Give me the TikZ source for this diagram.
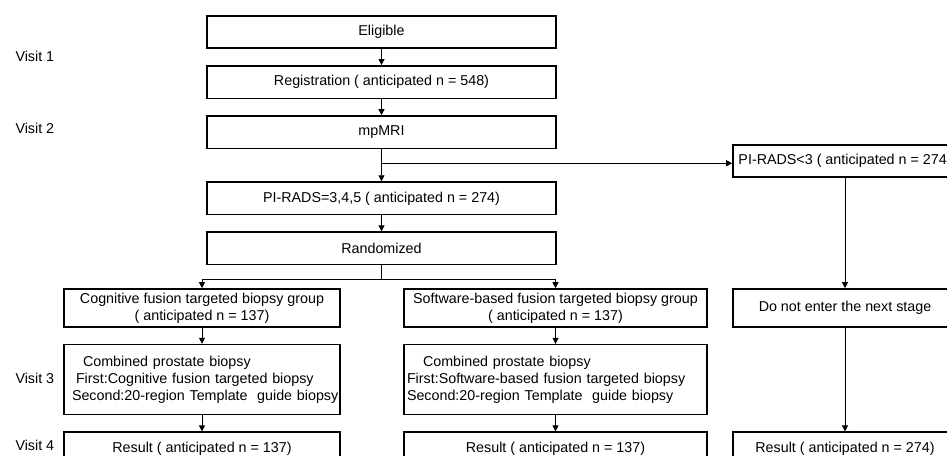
\documentclass[tikz,border=0pt]{standalone}
\usepackage{fontspec}
\setmainfont{Liberation Sans}
\usetikzlibrary{positioning,arrows.meta}

\begin{document}
\begin{tikzpicture}[
    x=1pt, y=-1pt,
    node distance=16pt,
    box/.style={rectangle, draw=black, line width=1.6pt, align=center,
                minimum height=32.5pt, inner sep=3pt,
                font=\fontsize{14.3}{17.3}\selectfont},
    mainbox/.style={box, minimum width=349pt},
    arrow/.style={-{Triangle[width=6pt,length=6pt]}, line width=0.8pt},
    lbl/.style={anchor=west, font=\fontsize{14.3}{17.3}\selectfont}
]
    \clip (0,0) rectangle (947,455);

    % main column
    \node[mainbox] (elig) at (381.5,32) {Eligible};
    \node[mainbox, below=of elig] (reg) {Registration ( anticipated n = 548)};
    \node[mainbox, below=of reg] (mri) {mpMRI};
    \node[mainbox, below=32pt of mri] (pi) {PI-RADS=3,4,5 ( anticipated n = 274)};
    \node[mainbox, below=of pi] (rand) {Randomized};

    % right branch
    \node[box, minimum width=224pt] (low) at (845,161) {PI-RADS<3 ( anticipated n = 274)};

    % groups
    \node[box, minimum width=276pt, minimum height=38pt] (cog) at (202,308)
        {Cognitive fusion targeted biopsy group\\( anticipated n = 137)};
    \node[box, minimum width=303pt, minimum height=38pt] (soft) at (555.5,308)
        {Software-based fusion targeted biopsy group\\( anticipated n = 137)};
    \node[box, minimum width=224pt, minimum height=38pt] (dne) at (845,308)
        {Do not enter the next stage};

    \node[box, below=of cog, minimum height=70pt, text width=260pt, inner xsep=8pt, align=left] (comb)
        {\hspace*{11pt}\mbox{Combined prostate biopsy}\\
         \hspace*{4pt}\mbox{First:Cognitive fusion targeted biopsy}\\
         \mbox{Second:20-region Template\ \ guide biopsy}};
    \node[box, below=of soft, minimum height=70pt, text width=297pt, inner xsep=3pt, align=left] (softcomb)
        {\hspace*{16pt}\mbox{Combined prostate biopsy}\\
         \mbox{First:Software-based fusion targeted biopsy}\\
         \mbox{Second:20-region Template\ \ guide biopsy}};

    \node[box, below=of comb, minimum width=276pt, minimum height=33pt] (res1) {Result ( anticipated n = 137)};
    \node[box, below=of softcomb, minimum width=303pt, minimum height=33pt] (res2) {Result ( anticipated n = 137)};
    \node[box, minimum width=224pt, minimum height=33pt] (res3) at (dne |- res1) {Result ( anticipated n = 274)};

    % visits
    \node[lbl] (v1) at (12,56) {Visit 1};
    \node[lbl] (v2) at (12,128) {Visit 2};
    \node[lbl] (v3) at (12,378) {Visit 3};
    \node[lbl] (v4) at (12,445) {Visit 4};

    \draw[arrow] (elig)--(reg);
    \draw[arrow] (reg)--(mri);
    \draw[arrow] (mri)--(pi);
    \path (mri.south) ++(0,14) coordinate (split);
    \draw[arrow] (split)--(split -| low.west);
    \draw[arrow] (pi)--(rand);
    \draw[arrow] (rand.south) -- ++(0,14) -| (cog.north);
    \draw[arrow] (rand.south) -- ++(0,14) -| (soft.north);
    \draw[arrow] (cog)--(comb);
    \draw[arrow] (comb)--(res1);
    \draw[arrow] (soft)--(softcomb);
    \draw[arrow] (softcomb)--(res2);
    \draw[arrow] (low)--(dne);
    \draw[arrow] (dne)--(res3);
\end{tikzpicture}
\end{document}
